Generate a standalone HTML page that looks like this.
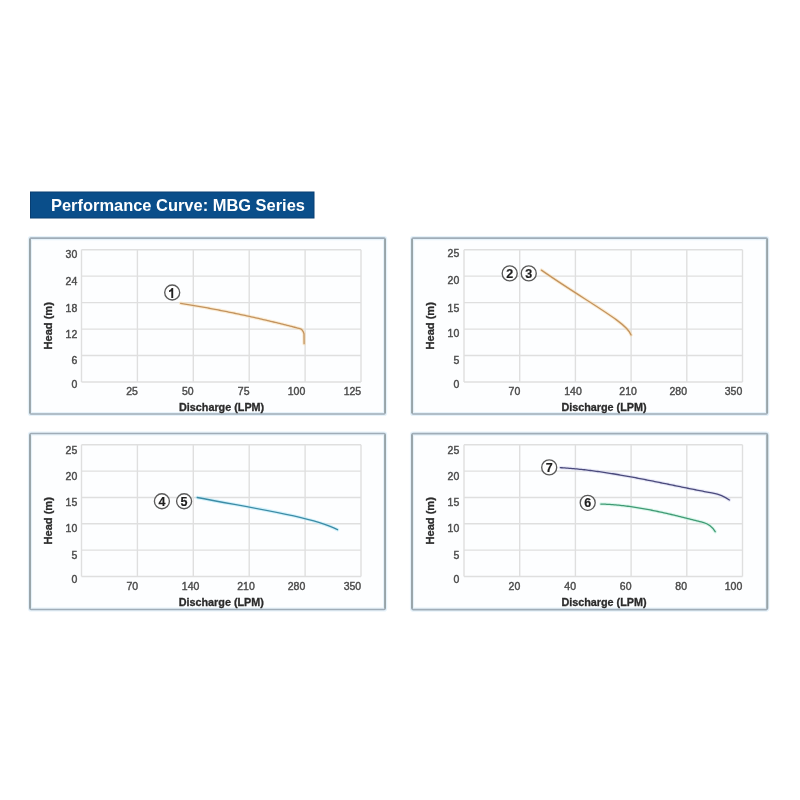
<!DOCTYPE html>
<html><head><meta charset="utf-8"><style>
html,body{margin:0;padding:0;background:#fff;width:800px;height:800px;overflow:hidden}
svg{display:block;filter:blur(0.3px)}
text{font-family:"Liberation Sans", sans-serif}
</style></head><body>
<svg width="800" height="800" viewBox="0 0 800 800">
<rect width="800" height="800" fill="#fff"/>
<rect x="30.5" y="192" width="283.5" height="26" fill="#0a4e8a" stroke="#083e72" stroke-width="1"/>
<text x="51.0" y="210.8" font-family='"Liberation Sans", sans-serif' font-weight="bold" font-size="16.45" fill="#fff">Performance Curve: MBG Series</text>
<rect x="29.9" y="238.1" width="355.2" height="175.9" rx="1" fill="#fdfeff" stroke="#e6f2fa" stroke-width="4.2"/>
<rect x="29.9" y="238.1" width="355.2" height="175.9" rx="1" fill="none" stroke="#a0adb8" stroke-width="1.6"/>
<line x1="29.9" y1="239.1" x2="29.9" y2="413.0" stroke="#98a4a8" stroke-width="1.8"/>
<line x1="385.09999999999997" y1="239.1" x2="385.09999999999997" y2="413.0" stroke="#98a4a8" stroke-width="1.8"/>
<line x1="81.50" y1="249.7" x2="81.50" y2="382" stroke="#dfdfdf" stroke-width="1.4"/>
<line x1="81.5" y1="249.70" x2="361" y2="249.70" stroke="#dfdfdf" stroke-width="1.4"/>
<line x1="137.40" y1="249.7" x2="137.40" y2="382" stroke="#dfdfdf" stroke-width="1.4"/>
<line x1="81.5" y1="276.16" x2="361" y2="276.16" stroke="#dfdfdf" stroke-width="1.4"/>
<line x1="193.30" y1="249.7" x2="193.30" y2="382" stroke="#dfdfdf" stroke-width="1.4"/>
<line x1="81.5" y1="302.62" x2="361" y2="302.62" stroke="#dfdfdf" stroke-width="1.4"/>
<line x1="249.20" y1="249.7" x2="249.20" y2="382" stroke="#dfdfdf" stroke-width="1.4"/>
<line x1="81.5" y1="329.08" x2="361" y2="329.08" stroke="#dfdfdf" stroke-width="1.4"/>
<line x1="305.10" y1="249.7" x2="305.10" y2="382" stroke="#dfdfdf" stroke-width="1.4"/>
<line x1="81.5" y1="355.54" x2="361" y2="355.54" stroke="#dfdfdf" stroke-width="1.4"/>
<line x1="361.00" y1="249.7" x2="361.00" y2="382" stroke="#dfdfdf" stroke-width="1.4"/>
<line x1="81.5" y1="382.00" x2="361" y2="382.00" stroke="#dfdfdf" stroke-width="1.4"/>
<text x="137.9" y="395.3" text-anchor="end" font-size="10.5" fill="#4a4a4a" stroke="#4a4a4a" stroke-width="0.4">25</text>
<text x="193.7" y="395.3" text-anchor="end" font-size="10.5" fill="#4a4a4a" stroke="#4a4a4a" stroke-width="0.4">50</text>
<text x="249.5" y="395.3" text-anchor="end" font-size="10.5" fill="#4a4a4a" stroke="#4a4a4a" stroke-width="0.4">75</text>
<text x="305.3" y="395.3" text-anchor="end" font-size="10.5" fill="#4a4a4a" stroke="#4a4a4a" stroke-width="0.4">100</text>
<text x="361.2" y="395.3" text-anchor="end" font-size="10.5" fill="#4a4a4a" stroke="#4a4a4a" stroke-width="0.4">125</text>
<text x="77.3" y="257.8" text-anchor="end" font-size="10.5" fill="#4a4a4a" stroke="#4a4a4a" stroke-width="0.4">30</text>
<text x="77.3" y="284.8" text-anchor="end" font-size="10.5" fill="#4a4a4a" stroke="#4a4a4a" stroke-width="0.4">24</text>
<text x="77.3" y="311.8" text-anchor="end" font-size="10.5" fill="#4a4a4a" stroke="#4a4a4a" stroke-width="0.4">18</text>
<text x="77.3" y="337.8" text-anchor="end" font-size="10.5" fill="#4a4a4a" stroke="#4a4a4a" stroke-width="0.4">12</text>
<text x="77.3" y="363.9" text-anchor="end" font-size="10.5" fill="#4a4a4a" stroke="#4a4a4a" stroke-width="0.4">6</text>
<text x="77.3" y="387.5" text-anchor="end" font-size="10.5" fill="#4a4a4a" stroke="#4a4a4a" stroke-width="0.4">0</text>
<text x="52.2" y="325.8" transform="rotate(-90 52.2 325.8)" text-anchor="middle" font-size="11.1" font-weight="bold" fill="#2b2b2b" stroke="#2b2b2b" stroke-width="0.3">Head (m)</text>
<text x="179" y="410.5" font-size="10.8" font-weight="bold" fill="#2b2b2b" stroke="#2b2b2b" stroke-width="0.3">Discharge (LPM)</text>
<rect x="412.1" y="238.1" width="355.1" height="175.9" rx="1" fill="#fdfeff" stroke="#e6f2fa" stroke-width="4.2"/>
<rect x="412.1" y="238.1" width="355.1" height="175.9" rx="1" fill="none" stroke="#a0adb8" stroke-width="1.6"/>
<line x1="412.1" y1="239.1" x2="412.1" y2="413.0" stroke="#98a4a8" stroke-width="1.8"/>
<line x1="767.2" y1="239.1" x2="767.2" y2="413.0" stroke="#98a4a8" stroke-width="1.8"/>
<line x1="464.00" y1="249.7" x2="464.00" y2="382" stroke="#dfdfdf" stroke-width="1.4"/>
<line x1="464" y1="249.70" x2="742.5" y2="249.70" stroke="#dfdfdf" stroke-width="1.4"/>
<line x1="519.70" y1="249.7" x2="519.70" y2="382" stroke="#dfdfdf" stroke-width="1.4"/>
<line x1="464" y1="276.16" x2="742.5" y2="276.16" stroke="#dfdfdf" stroke-width="1.4"/>
<line x1="575.40" y1="249.7" x2="575.40" y2="382" stroke="#dfdfdf" stroke-width="1.4"/>
<line x1="464" y1="302.62" x2="742.5" y2="302.62" stroke="#dfdfdf" stroke-width="1.4"/>
<line x1="631.10" y1="249.7" x2="631.10" y2="382" stroke="#dfdfdf" stroke-width="1.4"/>
<line x1="464" y1="329.08" x2="742.5" y2="329.08" stroke="#dfdfdf" stroke-width="1.4"/>
<line x1="686.80" y1="249.7" x2="686.80" y2="382" stroke="#dfdfdf" stroke-width="1.4"/>
<line x1="464" y1="355.54" x2="742.5" y2="355.54" stroke="#dfdfdf" stroke-width="1.4"/>
<line x1="742.50" y1="249.7" x2="742.50" y2="382" stroke="#dfdfdf" stroke-width="1.4"/>
<line x1="464" y1="382.00" x2="742.5" y2="382.00" stroke="#dfdfdf" stroke-width="1.4"/>
<text x="520.3" y="395.3" text-anchor="end" font-size="10.5" fill="#4a4a4a" stroke="#4a4a4a" stroke-width="0.4">70</text>
<text x="573" y="395.3" text-anchor="middle" font-size="10.5" fill="#4a4a4a" stroke="#4a4a4a" stroke-width="0.4">140</text>
<text x="628.1" y="395.3" text-anchor="middle" font-size="10.5" fill="#4a4a4a" stroke="#4a4a4a" stroke-width="0.4">210</text>
<text x="687" y="395.3" text-anchor="end" font-size="10.5" fill="#4a4a4a" stroke="#4a4a4a" stroke-width="0.4">280</text>
<text x="742.3" y="395.3" text-anchor="end" font-size="10.5" fill="#4a4a4a" stroke="#4a4a4a" stroke-width="0.4">350</text>
<text x="459.3" y="257.4" text-anchor="end" font-size="10.5" fill="#4a4a4a" stroke="#4a4a4a" stroke-width="0.4">25</text>
<text x="459.3" y="283.9" text-anchor="end" font-size="10.5" fill="#4a4a4a" stroke="#4a4a4a" stroke-width="0.4">20</text>
<text x="459.3" y="311.6" text-anchor="end" font-size="10.5" fill="#4a4a4a" stroke="#4a4a4a" stroke-width="0.4">15</text>
<text x="459.3" y="337.4" text-anchor="end" font-size="10.5" fill="#4a4a4a" stroke="#4a4a4a" stroke-width="0.4">10</text>
<text x="459.3" y="363.9" text-anchor="end" font-size="10.5" fill="#4a4a4a" stroke="#4a4a4a" stroke-width="0.4">5</text>
<text x="459.3" y="387.5" text-anchor="end" font-size="10.5" fill="#4a4a4a" stroke="#4a4a4a" stroke-width="0.4">0</text>
<text x="434.2" y="325.8" transform="rotate(-90 434.2 325.8)" text-anchor="middle" font-size="11.1" font-weight="bold" fill="#2b2b2b" stroke="#2b2b2b" stroke-width="0.3">Head (m)</text>
<text x="561.4" y="410.5" font-size="10.8" font-weight="bold" fill="#2b2b2b" stroke="#2b2b2b" stroke-width="0.3">Discharge (LPM)</text>
<rect x="30.0" y="433.5" width="355.1" height="176.0" rx="1" fill="#fdfeff" stroke="#e6f2fa" stroke-width="4.2"/>
<rect x="30.0" y="433.5" width="355.1" height="176.0" rx="1" fill="none" stroke="#a0adb8" stroke-width="1.6"/>
<line x1="30.0" y1="434.5" x2="30.0" y2="608.5" stroke="#98a4a8" stroke-width="1.8"/>
<line x1="385.1" y1="434.5" x2="385.1" y2="608.5" stroke="#98a4a8" stroke-width="1.8"/>
<line x1="81.50" y1="444.8" x2="81.50" y2="576.5" stroke="#dfdfdf" stroke-width="1.4"/>
<line x1="81.5" y1="444.80" x2="361" y2="444.80" stroke="#dfdfdf" stroke-width="1.4"/>
<line x1="137.40" y1="444.8" x2="137.40" y2="576.5" stroke="#dfdfdf" stroke-width="1.4"/>
<line x1="81.5" y1="471.14" x2="361" y2="471.14" stroke="#dfdfdf" stroke-width="1.4"/>
<line x1="193.30" y1="444.8" x2="193.30" y2="576.5" stroke="#dfdfdf" stroke-width="1.4"/>
<line x1="81.5" y1="497.48" x2="361" y2="497.48" stroke="#dfdfdf" stroke-width="1.4"/>
<line x1="249.20" y1="444.8" x2="249.20" y2="576.5" stroke="#dfdfdf" stroke-width="1.4"/>
<line x1="81.5" y1="523.82" x2="361" y2="523.82" stroke="#dfdfdf" stroke-width="1.4"/>
<line x1="305.10" y1="444.8" x2="305.10" y2="576.5" stroke="#dfdfdf" stroke-width="1.4"/>
<line x1="81.5" y1="550.16" x2="361" y2="550.16" stroke="#dfdfdf" stroke-width="1.4"/>
<line x1="361.00" y1="444.8" x2="361.00" y2="576.5" stroke="#dfdfdf" stroke-width="1.4"/>
<line x1="81.5" y1="576.50" x2="361" y2="576.50" stroke="#dfdfdf" stroke-width="1.4"/>
<text x="138.1" y="590.3" text-anchor="end" font-size="10.5" fill="#4a4a4a" stroke="#4a4a4a" stroke-width="0.4">70</text>
<text x="190.6" y="590.3" text-anchor="middle" font-size="10.5" fill="#4a4a4a" stroke="#4a4a4a" stroke-width="0.4">140</text>
<text x="246" y="590.3" text-anchor="middle" font-size="10.5" fill="#4a4a4a" stroke="#4a4a4a" stroke-width="0.4">210</text>
<text x="305.3" y="590.3" text-anchor="end" font-size="10.5" fill="#4a4a4a" stroke="#4a4a4a" stroke-width="0.4">280</text>
<text x="361.2" y="590.3" text-anchor="end" font-size="10.5" fill="#4a4a4a" stroke="#4a4a4a" stroke-width="0.4">350</text>
<text x="77.3" y="453.8" text-anchor="end" font-size="10.5" fill="#4a4a4a" stroke="#4a4a4a" stroke-width="0.4">25</text>
<text x="77.3" y="479.8" text-anchor="end" font-size="10.5" fill="#4a4a4a" stroke="#4a4a4a" stroke-width="0.4">20</text>
<text x="77.3" y="506.4" text-anchor="end" font-size="10.5" fill="#4a4a4a" stroke="#4a4a4a" stroke-width="0.4">15</text>
<text x="77.3" y="532.4" text-anchor="end" font-size="10.5" fill="#4a4a4a" stroke="#4a4a4a" stroke-width="0.4">10</text>
<text x="77.3" y="558.8" text-anchor="end" font-size="10.5" fill="#4a4a4a" stroke="#4a4a4a" stroke-width="0.4">5</text>
<text x="77.3" y="582.8" text-anchor="end" font-size="10.5" fill="#4a4a4a" stroke="#4a4a4a" stroke-width="0.4">0</text>
<text x="52.2" y="520.8" transform="rotate(-90 52.2 520.8)" text-anchor="middle" font-size="11.1" font-weight="bold" fill="#2b2b2b" stroke="#2b2b2b" stroke-width="0.3">Head (m)</text>
<text x="178.7" y="606.2" font-size="10.8" font-weight="bold" fill="#2b2b2b" stroke="#2b2b2b" stroke-width="0.3">Discharge (LPM)</text>
<rect x="412.0" y="433.6" width="355.3" height="176.0" rx="1" fill="#fdfeff" stroke="#e6f2fa" stroke-width="4.2"/>
<rect x="412.0" y="433.6" width="355.3" height="176.0" rx="1" fill="none" stroke="#a0adb8" stroke-width="1.6"/>
<line x1="412.0" y1="434.6" x2="412.0" y2="608.6" stroke="#98a4a8" stroke-width="1.8"/>
<line x1="767.3" y1="434.6" x2="767.3" y2="608.6" stroke="#98a4a8" stroke-width="1.8"/>
<line x1="464.00" y1="444.8" x2="464.00" y2="576.5" stroke="#dfdfdf" stroke-width="1.4"/>
<line x1="464" y1="444.80" x2="742.5" y2="444.80" stroke="#dfdfdf" stroke-width="1.4"/>
<line x1="519.70" y1="444.8" x2="519.70" y2="576.5" stroke="#dfdfdf" stroke-width="1.4"/>
<line x1="464" y1="471.14" x2="742.5" y2="471.14" stroke="#dfdfdf" stroke-width="1.4"/>
<line x1="575.40" y1="444.8" x2="575.40" y2="576.5" stroke="#dfdfdf" stroke-width="1.4"/>
<line x1="464" y1="497.48" x2="742.5" y2="497.48" stroke="#dfdfdf" stroke-width="1.4"/>
<line x1="631.10" y1="444.8" x2="631.10" y2="576.5" stroke="#dfdfdf" stroke-width="1.4"/>
<line x1="464" y1="523.82" x2="742.5" y2="523.82" stroke="#dfdfdf" stroke-width="1.4"/>
<line x1="686.80" y1="444.8" x2="686.80" y2="576.5" stroke="#dfdfdf" stroke-width="1.4"/>
<line x1="464" y1="550.16" x2="742.5" y2="550.16" stroke="#dfdfdf" stroke-width="1.4"/>
<line x1="742.50" y1="444.8" x2="742.50" y2="576.5" stroke="#dfdfdf" stroke-width="1.4"/>
<line x1="464" y1="576.50" x2="742.5" y2="576.50" stroke="#dfdfdf" stroke-width="1.4"/>
<text x="520.3" y="590.3" text-anchor="end" font-size="10.5" fill="#4a4a4a" stroke="#4a4a4a" stroke-width="0.4">20</text>
<text x="576" y="590.3" text-anchor="end" font-size="10.5" fill="#4a4a4a" stroke="#4a4a4a" stroke-width="0.4">40</text>
<text x="631.5" y="590.3" text-anchor="end" font-size="10.5" fill="#4a4a4a" stroke="#4a4a4a" stroke-width="0.4">60</text>
<text x="687" y="590.3" text-anchor="end" font-size="10.5" fill="#4a4a4a" stroke="#4a4a4a" stroke-width="0.4">80</text>
<text x="742.3" y="590.3" text-anchor="end" font-size="10.5" fill="#4a4a4a" stroke="#4a4a4a" stroke-width="0.4">100</text>
<text x="459.3" y="453.8" text-anchor="end" font-size="10.5" fill="#4a4a4a" stroke="#4a4a4a" stroke-width="0.4">25</text>
<text x="459.3" y="479.8" text-anchor="end" font-size="10.5" fill="#4a4a4a" stroke="#4a4a4a" stroke-width="0.4">20</text>
<text x="459.3" y="506.4" text-anchor="end" font-size="10.5" fill="#4a4a4a" stroke="#4a4a4a" stroke-width="0.4">15</text>
<text x="459.3" y="532.4" text-anchor="end" font-size="10.5" fill="#4a4a4a" stroke="#4a4a4a" stroke-width="0.4">10</text>
<text x="459.3" y="558.8" text-anchor="end" font-size="10.5" fill="#4a4a4a" stroke="#4a4a4a" stroke-width="0.4">5</text>
<text x="459.3" y="582.8" text-anchor="end" font-size="10.5" fill="#4a4a4a" stroke="#4a4a4a" stroke-width="0.4">0</text>
<text x="434.2" y="520.8" transform="rotate(-90 434.2 520.8)" text-anchor="middle" font-size="11.1" font-weight="bold" fill="#2b2b2b" stroke="#2b2b2b" stroke-width="0.3">Head (m)</text>
<text x="561.4" y="606.2" font-size="10.8" font-weight="bold" fill="#2b2b2b" stroke="#2b2b2b" stroke-width="0.3">Discharge (LPM)</text>
<path d="M180.60,303.29 L182.10,303.54 L183.60,303.78 L185.10,304.03 L186.60,304.28 L188.10,304.53 L189.60,304.78 L191.10,305.04 L192.60,305.29 L194.10,305.55 L195.60,305.81 L197.10,306.07 L198.60,306.34 L200.10,306.60 L201.60,306.87 L203.10,307.14 L204.60,307.41 L206.10,307.69 L207.60,307.96 L209.10,308.24 L210.60,308.52 L212.10,308.80 L213.60,309.09 L215.10,309.37 L216.60,309.66 L218.10,309.95 L219.60,310.24 L221.10,310.53 L222.60,310.83 L224.10,311.12 L225.60,311.42 L227.10,311.72 L228.60,312.03 L230.10,312.33 L231.60,312.64 L233.10,312.95 L234.60,313.26 L236.10,313.57 L237.60,313.88 L239.10,314.20 L240.60,314.52 L242.10,314.84 L243.60,315.16 L245.10,315.48 L246.60,315.81 L248.10,316.14 L249.60,316.47 L251.10,316.80 L252.60,317.13 L254.10,317.47 L255.60,317.81 L257.10,318.14 L258.60,318.49 L260.10,318.83 L261.60,319.17 L263.10,319.52 L264.60,319.87 L266.10,320.22 L267.60,320.57 L269.10,320.93 L270.60,321.29 L272.10,321.64 L273.60,322.00 L275.10,322.37 L276.60,322.73 L278.10,323.10 L279.60,323.47 L281.10,323.84 L282.60,324.21 L284.10,324.58 L285.60,324.96 L287.10,325.33 L288.60,325.71 L290.10,326.10 L291.60,326.48 L293.10,326.87 L294.60,327.25 L296.10,327.64 L297.60,328.03 L299.10,328.43 L300.50,328.79 Q302.70,329.38 304.0,333.8 L304.1,343.7" fill="none" stroke="#f9d9a8" stroke-width="3.4" stroke-linecap="round" stroke-linejoin="round" opacity="0.5"/>
<path d="M180.60,303.29 L182.10,303.54 L183.60,303.78 L185.10,304.03 L186.60,304.28 L188.10,304.53 L189.60,304.78 L191.10,305.04 L192.60,305.29 L194.10,305.55 L195.60,305.81 L197.10,306.07 L198.60,306.34 L200.10,306.60 L201.60,306.87 L203.10,307.14 L204.60,307.41 L206.10,307.69 L207.60,307.96 L209.10,308.24 L210.60,308.52 L212.10,308.80 L213.60,309.09 L215.10,309.37 L216.60,309.66 L218.10,309.95 L219.60,310.24 L221.10,310.53 L222.60,310.83 L224.10,311.12 L225.60,311.42 L227.10,311.72 L228.60,312.03 L230.10,312.33 L231.60,312.64 L233.10,312.95 L234.60,313.26 L236.10,313.57 L237.60,313.88 L239.10,314.20 L240.60,314.52 L242.10,314.84 L243.60,315.16 L245.10,315.48 L246.60,315.81 L248.10,316.14 L249.60,316.47 L251.10,316.80 L252.60,317.13 L254.10,317.47 L255.60,317.81 L257.10,318.14 L258.60,318.49 L260.10,318.83 L261.60,319.17 L263.10,319.52 L264.60,319.87 L266.10,320.22 L267.60,320.57 L269.10,320.93 L270.60,321.29 L272.10,321.64 L273.60,322.00 L275.10,322.37 L276.60,322.73 L278.10,323.10 L279.60,323.47 L281.10,323.84 L282.60,324.21 L284.10,324.58 L285.60,324.96 L287.10,325.33 L288.60,325.71 L290.10,326.10 L291.60,326.48 L293.10,326.87 L294.60,327.25 L296.10,327.64 L297.60,328.03 L299.10,328.43 L300.50,328.79 Q302.70,329.38 304.0,333.8 L304.1,343.7" fill="none" stroke="#c3935e" stroke-width="1.3" stroke-linecap="round" stroke-linejoin="round"/>
<path d="M541.4,270.1 C586.25,301.5 626.62,321.99 631.1,335" fill="none" stroke="#f9d9a8" stroke-width="3.4" stroke-linecap="round" stroke-linejoin="round" opacity="0.5"/>
<path d="M541.4,270.1 C586.25,301.5 626.62,321.99 631.1,335" fill="none" stroke="#c3935e" stroke-width="1.3" stroke-linecap="round" stroke-linejoin="round"/>
<path d="M197.2,497.5 C246.3,507.32 309.44,515.67 337.5,529.7" fill="none" stroke="#a8e6fa" stroke-width="3.4" stroke-linecap="round" stroke-linejoin="round" opacity="0.5"/>
<path d="M197.2,497.5 C246.3,507.32 309.44,515.67 337.5,529.7" fill="none" stroke="#3c8ca6" stroke-width="1.3" stroke-linecap="round" stroke-linejoin="round"/>
<path d="M560.30,467.65 L561.80,467.75 L563.30,467.84 L564.80,467.95 L566.30,468.06 L567.80,468.17 L569.30,468.29 L570.80,468.42 L572.30,468.55 L573.80,468.68 L575.30,468.82 L576.80,468.97 L578.30,469.12 L579.80,469.28 L581.30,469.44 L582.80,469.60 L584.30,469.77 L585.80,469.94 L587.30,470.12 L588.80,470.31 L590.30,470.49 L591.80,470.68 L593.30,470.88 L594.80,471.08 L596.30,471.28 L597.80,471.49 L599.30,471.70 L600.80,471.92 L602.30,472.14 L603.80,472.36 L605.30,472.58 L606.80,472.81 L608.30,473.05 L609.80,473.28 L611.30,473.52 L612.80,473.76 L614.30,474.01 L615.80,474.26 L617.30,474.51 L618.80,474.76 L620.30,475.02 L621.80,475.28 L623.30,475.54 L624.80,475.81 L626.30,476.08 L627.80,476.35 L629.30,476.62 L630.80,476.89 L632.30,477.17 L633.80,477.45 L635.30,477.73 L636.80,478.01 L638.30,478.30 L639.80,478.58 L641.30,478.87 L642.80,479.16 L644.30,479.45 L645.80,479.74 L647.30,480.04 L648.80,480.33 L650.30,480.63 L651.80,480.93 L653.30,481.23 L654.80,481.53 L656.30,481.83 L657.80,482.13 L659.30,482.43 L660.80,482.74 L662.30,483.04 L663.80,483.35 L665.30,483.65 L666.80,483.96 L668.30,484.26 L669.80,484.57 L671.30,484.88 L672.80,485.18 L674.30,485.49 L675.80,485.80 L677.30,486.10 L678.80,486.41 L680.30,486.72 L681.80,487.02 L683.30,487.33 L684.80,487.63 L686.30,487.94 L687.80,488.24 L689.30,488.54 L690.80,488.85 L692.30,489.15 L693.80,489.45 L695.30,489.75 L696.80,490.05 L698.30,490.34 L699.80,490.64 L701.30,490.93 L702.80,491.23 L704.30,491.52 L705.80,491.81 L707.30,492.10 L708.80,492.38 L710.30,492.67 L711.80,492.95 L713.00,493.18 Q722.00,494.86 729.4,500" fill="none" stroke="#d0d0ee" stroke-width="3.4" stroke-linecap="round" stroke-linejoin="round" opacity="0.5"/>
<path d="M560.30,467.65 L561.80,467.75 L563.30,467.84 L564.80,467.95 L566.30,468.06 L567.80,468.17 L569.30,468.29 L570.80,468.42 L572.30,468.55 L573.80,468.68 L575.30,468.82 L576.80,468.97 L578.30,469.12 L579.80,469.28 L581.30,469.44 L582.80,469.60 L584.30,469.77 L585.80,469.94 L587.30,470.12 L588.80,470.31 L590.30,470.49 L591.80,470.68 L593.30,470.88 L594.80,471.08 L596.30,471.28 L597.80,471.49 L599.30,471.70 L600.80,471.92 L602.30,472.14 L603.80,472.36 L605.30,472.58 L606.80,472.81 L608.30,473.05 L609.80,473.28 L611.30,473.52 L612.80,473.76 L614.30,474.01 L615.80,474.26 L617.30,474.51 L618.80,474.76 L620.30,475.02 L621.80,475.28 L623.30,475.54 L624.80,475.81 L626.30,476.08 L627.80,476.35 L629.30,476.62 L630.80,476.89 L632.30,477.17 L633.80,477.45 L635.30,477.73 L636.80,478.01 L638.30,478.30 L639.80,478.58 L641.30,478.87 L642.80,479.16 L644.30,479.45 L645.80,479.74 L647.30,480.04 L648.80,480.33 L650.30,480.63 L651.80,480.93 L653.30,481.23 L654.80,481.53 L656.30,481.83 L657.80,482.13 L659.30,482.43 L660.80,482.74 L662.30,483.04 L663.80,483.35 L665.30,483.65 L666.80,483.96 L668.30,484.26 L669.80,484.57 L671.30,484.88 L672.80,485.18 L674.30,485.49 L675.80,485.80 L677.30,486.10 L678.80,486.41 L680.30,486.72 L681.80,487.02 L683.30,487.33 L684.80,487.63 L686.30,487.94 L687.80,488.24 L689.30,488.54 L690.80,488.85 L692.30,489.15 L693.80,489.45 L695.30,489.75 L696.80,490.05 L698.30,490.34 L699.80,490.64 L701.30,490.93 L702.80,491.23 L704.30,491.52 L705.80,491.81 L707.30,492.10 L708.80,492.38 L710.30,492.67 L711.80,492.95 L713.00,493.18 Q722.00,494.86 729.4,500" fill="none" stroke="#4a4a7c" stroke-width="1.3" stroke-linecap="round" stroke-linejoin="round"/>
<path d="M600.80,504.04 L602.30,504.09 L603.80,504.14 L605.30,504.21 L606.80,504.28 L608.30,504.37 L609.80,504.46 L611.30,504.57 L612.80,504.68 L614.30,504.80 L615.80,504.93 L617.30,505.07 L618.80,505.21 L620.30,505.37 L621.80,505.53 L623.30,505.70 L624.80,505.88 L626.30,506.07 L627.80,506.26 L629.30,506.46 L630.80,506.67 L632.30,506.88 L633.80,507.11 L635.30,507.34 L636.80,507.57 L638.30,507.81 L639.80,508.06 L641.30,508.32 L642.80,508.58 L644.30,508.85 L645.80,509.12 L647.30,509.40 L648.80,509.68 L650.30,509.97 L651.80,510.26 L653.30,510.56 L654.80,510.87 L656.30,511.18 L657.80,511.49 L659.30,511.81 L660.80,512.13 L662.30,512.46 L663.80,512.79 L665.30,513.12 L666.80,513.46 L668.30,513.80 L669.80,514.15 L671.30,514.50 L672.80,514.85 L674.30,515.20 L675.80,515.56 L677.30,515.92 L678.80,516.29 L680.30,516.65 L681.80,517.02 L683.30,517.39 L684.80,517.76 L686.30,518.14 L687.80,518.51 L689.30,518.89 L690.80,519.27 L692.30,519.65 L693.80,520.03 L695.30,520.42 L696.80,520.80 L698.30,521.18 L699.80,521.57 L701.30,521.95 L702.80,522.34 L703.00,522.39 Q711.00,524.45 715.2,531.7" fill="none" stroke="#b8f0d8" stroke-width="3.4" stroke-linecap="round" stroke-linejoin="round" opacity="0.5"/>
<path d="M600.80,504.04 L602.30,504.09 L603.80,504.14 L605.30,504.21 L606.80,504.28 L608.30,504.37 L609.80,504.46 L611.30,504.57 L612.80,504.68 L614.30,504.80 L615.80,504.93 L617.30,505.07 L618.80,505.21 L620.30,505.37 L621.80,505.53 L623.30,505.70 L624.80,505.88 L626.30,506.07 L627.80,506.26 L629.30,506.46 L630.80,506.67 L632.30,506.88 L633.80,507.11 L635.30,507.34 L636.80,507.57 L638.30,507.81 L639.80,508.06 L641.30,508.32 L642.80,508.58 L644.30,508.85 L645.80,509.12 L647.30,509.40 L648.80,509.68 L650.30,509.97 L651.80,510.26 L653.30,510.56 L654.80,510.87 L656.30,511.18 L657.80,511.49 L659.30,511.81 L660.80,512.13 L662.30,512.46 L663.80,512.79 L665.30,513.12 L666.80,513.46 L668.30,513.80 L669.80,514.15 L671.30,514.50 L672.80,514.85 L674.30,515.20 L675.80,515.56 L677.30,515.92 L678.80,516.29 L680.30,516.65 L681.80,517.02 L683.30,517.39 L684.80,517.76 L686.30,518.14 L687.80,518.51 L689.30,518.89 L690.80,519.27 L692.30,519.65 L693.80,520.03 L695.30,520.42 L696.80,520.80 L698.30,521.18 L699.80,521.57 L701.30,521.95 L702.80,522.34 L703.00,522.39 Q711.00,524.45 715.2,531.7" fill="none" stroke="#3f9a74" stroke-width="1.3" stroke-linecap="round" stroke-linejoin="round"/>
<circle cx="172.2" cy="292.5" r="7.5" fill="#fff" stroke="#5a5a5a" stroke-width="1.35"/>
<path d="M173.2,288.1 L173.2,297.9 L171.3,297.9 L171.3,291.2 Q170.3,291.9 169.0,292.1 L169.0,290.5 Q170.9,289.9 171.7,288.1 Z" fill="#222"/>
<circle cx="509.7" cy="273.4" r="7.5" fill="#fff" stroke="#5a5a5a" stroke-width="1.35"/>
<text x="509.7" y="277.9" text-anchor="middle" font-size="12.5" font-weight="bold" fill="#1e1e1e" stroke="#1e1e1e" stroke-width="0.2">2</text>
<circle cx="528.75" cy="273.4" r="7.5" fill="#fff" stroke="#5a5a5a" stroke-width="1.35"/>
<text x="528.75" y="277.9" text-anchor="middle" font-size="12.5" font-weight="bold" fill="#1e1e1e" stroke="#1e1e1e" stroke-width="0.2">3</text>
<circle cx="161.9" cy="501.25" r="7.5" fill="#fff" stroke="#5a5a5a" stroke-width="1.35"/>
<text x="161.9" y="505.75" text-anchor="middle" font-size="12.5" font-weight="bold" fill="#1e1e1e" stroke="#1e1e1e" stroke-width="0.2">4</text>
<circle cx="184.1" cy="501.25" r="7.5" fill="#fff" stroke="#5a5a5a" stroke-width="1.35"/>
<text x="184.1" y="505.75" text-anchor="middle" font-size="12.5" font-weight="bold" fill="#1e1e1e" stroke="#1e1e1e" stroke-width="0.2">5</text>
<circle cx="549.2" cy="467.4" r="7.5" fill="#fff" stroke="#5a5a5a" stroke-width="1.35"/>
<text x="549.2" y="471.9" text-anchor="middle" font-size="12.5" font-weight="bold" fill="#1e1e1e" stroke="#1e1e1e" stroke-width="0.2">7</text>
<circle cx="587.7" cy="502.8" r="7.5" fill="#fff" stroke="#5a5a5a" stroke-width="1.35"/>
<text x="587.7" y="507.3" text-anchor="middle" font-size="12.5" font-weight="bold" fill="#1e1e1e" stroke="#1e1e1e" stroke-width="0.2">6</text>
</svg>
</body></html>
